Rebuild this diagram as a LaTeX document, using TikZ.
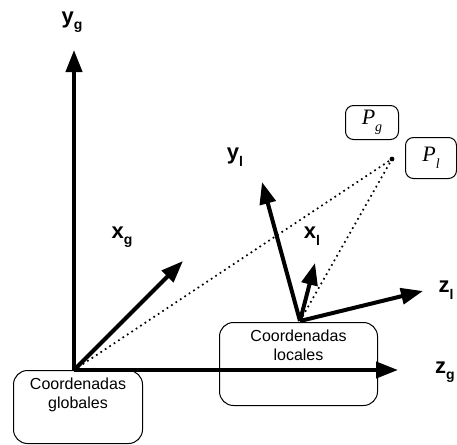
\documentclass[tikz,border=0pt]{standalone}
\usepackage{fontspec}
\setmainfont{Liberation Sans}
\newfontfamily\tmsfont{Liberation Serif}
\usetikzlibrary{arrows.meta}
\newcommand\axlab[2]{#1\raisebox{-0.3em}{\fontsize{14}{14}\selectfont #2}}
\newcommand\ptlab[2]{{\fontsize{22}{22}\selectfont\tmsfont\itshape #1\raisebox{-0.3em}{\fontsize{14}{14}\selectfont #2}}}
\newcommand\boxtxt[2]{{\fontsize{16}{19}\selectfont\begin{tabular}{@{}c@{}}#1\\#2\end{tabular}}}
\begin{document}
\begin{tikzpicture}[x=1pt,y=-1pt,
  axis/.style={line width=4pt,-{Triangle[length=22pt,width=16pt]}},
  lbl/.style={inner sep=0pt},
  pbox/.style={draw,line width=1pt,rounded corners=8pt,inner sep=0pt,anchor=north west},
  cbox/.style={draw,line width=1pt,rounded corners=14pt,inner sep=0pt,anchor=north west},
  ctext/.style={inner sep=0pt,anchor=north},
  dots/.style={line width=1.7pt,dash pattern=on 1.7pt off 3.6pt}]
\useasboundingbox (0,0) rectangle (457,444);
% boxes
\node[cbox,minimum width=129pt,minimum height=73pt] (gbox) at (13,370) {};
\node[ctext] (gtext) at ([yshift=-6pt]gbox.north) {\boxtxt{Coordenadas}{globales}};
\node[cbox,minimum width=158pt,minimum height=83pt] (lbox) at (219,322) {};
\node[ctext] (ltext) at ([yshift=-6pt]lbox.north) {\boxtxt{Coordenadas}{locales}};
\node[pbox,minimum width=53pt,minimum height=34pt] (pg) at (345,105) {\ptlab{P}{g}};
\node[pbox,minimum width=51pt,minimum height=41pt] (pl) at (405,137) {\ptlab{P}{l}};
% points
\coordinate (O) at (74,370);
\coordinate (L) at (300,321);
\coordinate (P) at (392,159);
\coordinate (yg) at (74,50);
\coordinate (zg) at (398,370);
\coordinate (xg) at (183,261);
\coordinate (yl) at (262,182);
\coordinate (xl) at (315,263);
\coordinate (zl) at (423,291);
% dotted
\draw[dots] (O) -- (P);
\draw[dots] (L) -- (P);
\fill (P) circle (2.4pt);
% axes
\draw[axis] (O) -- (yg);
\draw[axis] (O) -- (zg);
\draw[axis] (O) -- (xg);
\draw[axis] (L) -- (yl);
\draw[axis] (L) -- (xl);
\draw[axis] (L) -- (zl);
% labels
\node[lbl] (lyg) at (72,22) {\fontsize{22}{22}\selectfont\bfseries\axlab{y}{g}};
\node[lbl] (lxg) at (122,237) {\fontsize{22}{22}\selectfont\bfseries\axlab{x}{g}};
\node[lbl] (lzg) at (445,372) {\fontsize{22}{22}\selectfont\bfseries\axlab{z}{g}};
\node[lbl] (lyl) at (235,157) {\fontsize{22}{22}\selectfont\bfseries\axlab{y}{l}};
\node[lbl] (lxl) at (312,236) {\fontsize{22}{22}\selectfont\bfseries\axlab{x}{l}};
\node[lbl] (lzl) at (446,290) {\fontsize{22}{22}\selectfont\bfseries\axlab{z}{l}};
\end{tikzpicture}
\end{document}
